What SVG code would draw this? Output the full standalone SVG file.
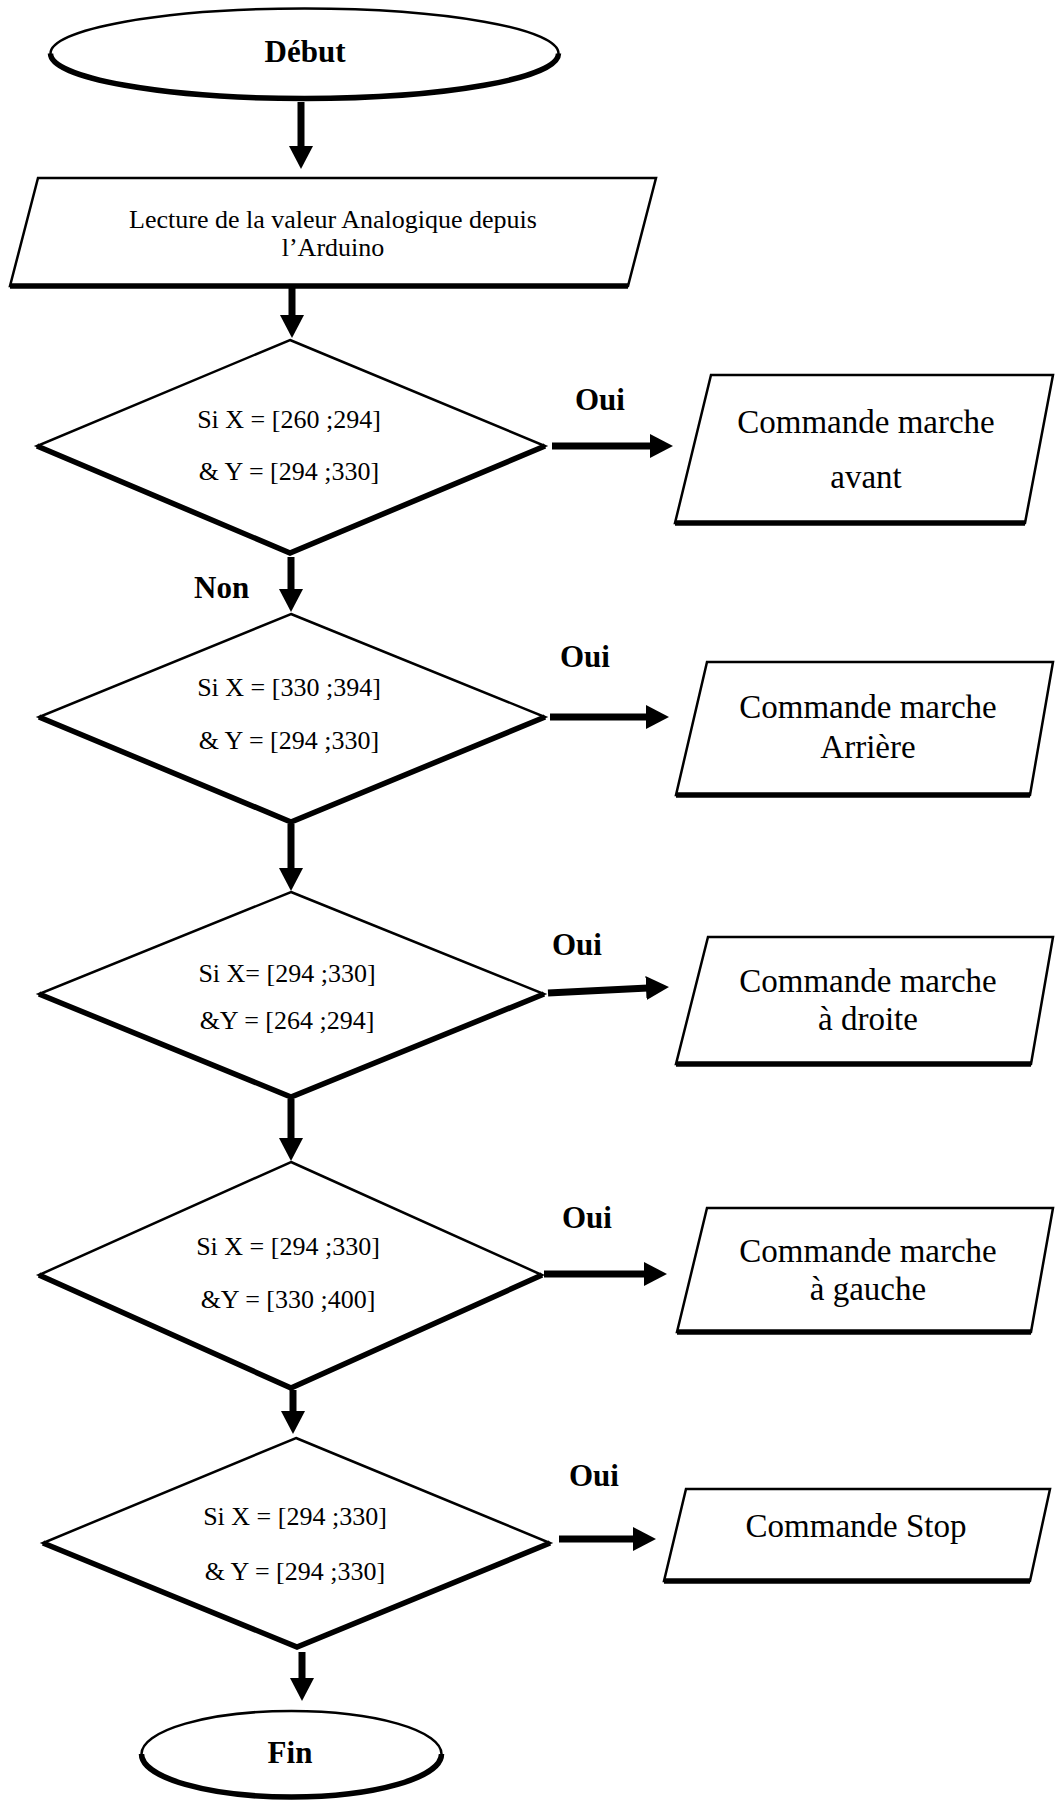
<svg xmlns="http://www.w3.org/2000/svg" width="1055" height="1800" viewBox="0 0 1055 1800">
<style>
.sh{fill:#fff;stroke:#000;stroke-width:2.5;stroke-linejoin:miter}
.thick{fill:none;stroke:#000;stroke-width:5.5;stroke-linejoin:miter}
.t{font-family:"Liberation Serif","Times New Roman",serif;fill:#000}
.cond{font-size:26px;text-anchor:middle}
.proc{font-size:33px;text-anchor:middle}
.lbl{font-size:31px;font-weight:bold}
.term{font-size:31px;font-weight:bold;text-anchor:middle}
.ar{fill:none;stroke:#000;stroke-width:7;marker-end:url(#ah)}
</style>
<defs>
<marker id="ah" markerUnits="userSpaceOnUse" markerWidth="24" markerHeight="24" viewBox="0 0 24 24" refX="2" refY="12" orient="auto">
<path d="M0,0 L23,12 L0,24 z" fill="#000"/>
</marker>
</defs>
<rect width="1055" height="1800" fill="#fff"/>

<g id="debut">
<ellipse class="sh" cx="304.5" cy="53.5" rx="254" ry="45"/>
<path class="thick" d="M50.5,53.5 A254,45 0 0 0 558.5,53.5"/>
<text class="t term" x="305" y="62">Début</text>
</g>

<g id="lecture">
<polygon class="sh" points="38,178 656,178 628,286 10,286"/>
<line class="thick" x1="10" y1="286" x2="628" y2="286"/>
<text class="t cond" x="333" y="228">Lecture de la valeur Analogique depuis</text>
<text class="t cond" x="333" y="256">l’Arduino</text>
</g>

<g id="cond1">
<polygon class="sh" points="290,340 545,446 290,553 37,446"/>
<polyline class="thick" points="37,446 290,553 545,446"/>
<text class="t cond" x="289" y="428">Si X = [260 ;294]</text>
<text class="t cond" x="289" y="480">&amp; Y = [294 ;330]</text>
</g>

<g id="avant">
<polygon class="sh" points="711,375 1053,375 1025,523 675,523"/>
<line class="thick" x1="675" y1="523" x2="1025" y2="523"/>
<text class="t proc" x="866" y="433">Commande marche</text>
<text class="t proc" x="866" y="488">avant</text>
</g>

<g id="cond2">
<polygon class="sh" points="291,614 545,717 291,822 39,717"/>
<polyline class="thick" points="39,717 291,822 545,717"/>
<text class="t cond" x="289" y="696">Si X = [330 ;394]</text>
<text class="t cond" x="289" y="749">&amp; Y = [294 ;330]</text>
</g>

<g id="arriere">
<polygon class="sh" points="707,662 1053,662 1030,795 676,795"/>
<line class="thick" x1="676" y1="795" x2="1030" y2="795"/>
<text class="t proc" x="868" y="718">Commande marche</text>
<text class="t proc" x="868" y="758">Arrière</text>
</g>

<g id="cond3">
<polygon class="sh" points="291,892 544,994 291,1097 39,994"/>
<polyline class="thick" points="39,994 291,1097 544,994"/>
<text class="t cond" x="287" y="982">Si X= [294 ;330]</text>
<text class="t cond" x="287" y="1029">&amp;Y = [264 ;294]</text>
</g>

<g id="droite">
<polygon class="sh" points="708,937 1053,937 1031,1064 676,1064"/>
<line class="thick" x1="676" y1="1064" x2="1031" y2="1064"/>
<text class="t proc" x="868" y="992">Commande marche</text>
<text class="t proc" x="868" y="1030">à droite</text>
</g>

<g id="cond4">
<polygon class="sh" points="291,1162 542,1275 291,1388 39,1275"/>
<polyline class="thick" points="39,1275 291,1388 542,1275"/>
<text class="t cond" x="288" y="1255">Si X = [294 ;330]</text>
<text class="t cond" x="288" y="1308">&amp;Y = [330 ;400]</text>
</g>

<g id="gauche">
<polygon class="sh" points="707,1208 1053,1208 1031,1332 677,1332"/>
<line class="thick" x1="677" y1="1332" x2="1031" y2="1332"/>
<text class="t proc" x="868" y="1262">Commande marche</text>
<text class="t proc" x="868" y="1300">à gauche</text>
</g>

<g id="cond5">
<polygon class="sh" points="296,1438 550,1543 297,1647 43,1543"/>
<polyline class="thick" points="43,1543 297,1647 550,1543"/>
<text class="t cond" x="295" y="1525">Si X = [294 ;330]</text>
<text class="t cond" x="295" y="1580">&amp; Y = [294 ;330]</text>
</g>

<g id="stop">
<polygon class="sh" points="686,1489 1050,1489 1030,1581 664,1581"/>
<line class="thick" x1="664" y1="1581" x2="1030" y2="1581"/>
<text class="t proc" x="856" y="1537">Commande Stop</text>
</g>

<g id="fin">
<ellipse class="sh" cx="291.5" cy="1754" rx="150" ry="43"/>
<path class="thick" d="M141.5,1754 A150,43 0 0 0 441.5,1754"/>
<text class="t term" x="290" y="1763">Fin</text>
</g>

<g id="connectors">
<line class="ar" x1="301" y1="102" x2="301" y2="148"/>
<line class="ar" x1="292" y1="288" x2="292" y2="317"/>
<line class="ar" x1="291" y1="557" x2="291" y2="591"/>
<line class="ar" x1="291" y1="824" x2="291" y2="870"/>
<line class="ar" x1="291" y1="1099" x2="291" y2="1140"/>
<line class="ar" x1="293" y1="1390" x2="293" y2="1413"/>
<line class="ar" x1="302" y1="1652" x2="302" y2="1680"/>
<line class="ar" x1="552" y1="446" x2="652" y2="446"/>
<line class="ar" x1="550" y1="717" x2="648" y2="717"/>
<line class="ar" x1="548" y1="993" x2="648" y2="988"/>
<line class="ar" x1="544" y1="1274" x2="646" y2="1274"/>
<line class="ar" x1="559" y1="1539" x2="635" y2="1539"/>
<text class="t lbl" x="575" y="410">Oui</text>
<text class="t lbl" x="194" y="598">Non</text>
<text class="t lbl" x="560" y="667">Oui</text>
<text class="t lbl" x="552" y="955">Oui</text>
<text class="t lbl" x="562" y="1228">Oui</text>
<text class="t lbl" x="569" y="1486">Oui</text>
</g>
</svg>
